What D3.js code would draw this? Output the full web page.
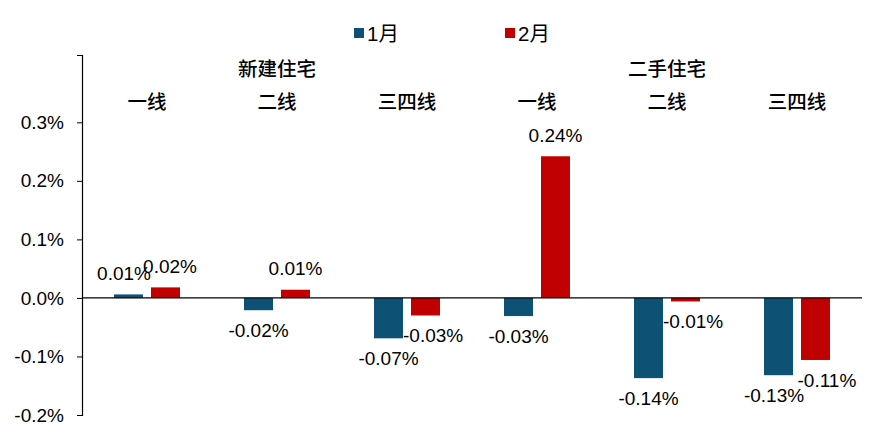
<!DOCTYPE html>
<html><head><meta charset="utf-8">
<script src="https://cdn.jsdelivr.net/npm/d3@7"></script>
<style>
html,body{margin:0;padding:0;background:#fff;}
text{font-family:"Liberation Sans",Arial,"Noto Sans CJK SC",sans-serif;fill:#000;}
.cjk{font-family:"Noto Sans CJK SC","Liberation Sans",sans-serif;}
</style></head>
<body><svg id="c" width="886" height="438"></svg>
<script>
const categories = ["一线","二线","三四线","一线","二线","三四线"];
const groups = ["新建住宅","二手住宅"];
const groupSpans = [[0,2],[3,5]];
const seriesNames = ["1月","2月"];
const jan = [0.006, -0.021, -0.069, -0.031, -0.137, -0.132];
const feb = [0.018, 0.014, -0.030, 0.242, -0.006, -0.106];
const tickValues = [0.3, 0.2, 0.1, 0.0, -0.1, -0.2];
const colors = ["#0d5274", "#c00000"];

const svg = d3.select("#c");
const left = 82, right = 862;
const y = d3.scaleLinear().domain([-0.2, 0.415]).range([415, 55]);
const x0 = d3.scaleBand().domain(d3.range(categories.length)).range([left, right]).padding(0);
const x1 = d3.scaleBand().domain(seriesNames).range([32, 98]).paddingInner(8/37).paddingOuter(0);
const seriesData = [jan, feb];

// y axis
const yAxis = d3.axisLeft(y).tickValues(tickValues).tickSize(5).tickPadding(13)
  .tickFormat(d => d.toFixed(1) + "%");
const ga = svg.append("g").attr("transform", `translate(${left},0)`).call(yAxis);
ga.select(".domain").attr("stroke", "#000").attr("stroke-width", 1.2);
ga.selectAll(".tick line").attr("stroke", "#000");
ga.selectAll(".tick text").style("font-size", "19px").attr("fill", "#000")
  .style("font-family", '"Liberation Sans",Arial,sans-serif');

// bars
seriesData.forEach((vals, s) => {
  svg.append("g").selectAll("rect").data(vals).join("rect")
    .attr("x", (d, i) => x0(i) + x1(seriesNames[s]))
    .attr("width", x1.bandwidth())
    .attr("y", d => Math.min(y(d), y(0)))
    .attr("height", d => Math.abs(y(d) - y(0)))
    .attr("fill", colors[s]);
});

// zero line
svg.append("line").attr("x1", left).attr("x2", right).attr("y1", y(0)).attr("y2", y(0))
  .attr("stroke", "#000").attr("stroke-width", 1.2);

// data labels
const labG = svg.append("g");
const labels = [];
seriesData.forEach((vals, s) => {
  vals.forEach((v, i) => {
    const cx = x0(i) + x1(seriesNames[s]) + x1.bandwidth() / 2;
    const cy = v >= 0 ? y(v) - 21 : y(v) + 20;
    const t = labG.append("text").attr("text-anchor", "middle").attr("dy", "0.35em")
      .style("font-size", "19px").text(v.toFixed(2) + "%");
    const w = t.node().getComputedTextLength();
    labels.push({t, i, s, v, cx, cy, w});
  });
});
// avoid overlapping neighbouring bar / label
for (let i = 0; i < categories.length; i++) {
  const a = labels.find(l => l.i === i && l.s === 0);
  const b = labels.find(l => l.i === i && l.s === 1);
  const bar0R = x0(i) + x1(seriesNames[0]) + x1.bandwidth();
  const bar1L = x0(i) + x1(seriesNames[1]);
  if (b.v < 0 && jan[i] < 0 && y(jan[i]) > b.cy - 9 && b.cx - b.w / 2 < bar0R) {
    b.cx = bar0R + b.w / 2;
  }
  if (a.v < 0 && feb[i] < 0 && y(feb[i]) > a.cy - 9 && a.cx + a.w / 2 > bar1L) {
    a.cx = bar1L - a.w / 2;
  }
  if ((a.v >= 0) === (b.v >= 0) && Math.abs(a.cy - b.cy) < 16 &&
      a.cx + a.w / 2 > b.cx - b.w / 2) {
    a.cx -= 4.5; b.cx += 4.5;
  }
}
labels.forEach(l => l.t.attr("x", l.cx).attr("y", l.cy));

// category labels
svg.append("g").selectAll("text").data(categories).join("text")
  .attr("class", "cjk")
  .attr("x", (d, i) => x0(i) + x0.bandwidth() / 2).attr("y", 102).attr("dy", "0.35em")
  .attr("text-anchor", "middle").style("font-size", "19.5px").style("font-weight", 500)
  .text(d => d);
// group labels
svg.append("g").selectAll("text").data(groups).join("text")
  .attr("class", "cjk")
  .attr("x", (d, g) => (x0(groupSpans[g][0]) + x0(groupSpans[g][1]) + x0.bandwidth()) / 2)
  .attr("y", 69).attr("dy", "0.35em")
  .attr("text-anchor", "middle").style("font-size", "19.5px").style("font-weight", 500)
  .text(d => d);

// legend
const legX = [354, 505];
seriesNames.forEach((n, s) => {
  svg.append("rect").attr("x", legX[s]).attr("y", 28).attr("width", 10).attr("height", 10).attr("fill", colors[s]);
  svg.append("text").attr("x", legX[s] + 13).attr("y", 34).attr("dy", "0.35em")
    .style("font-size", "20.5px").text(n);
});
</script></body></html>
